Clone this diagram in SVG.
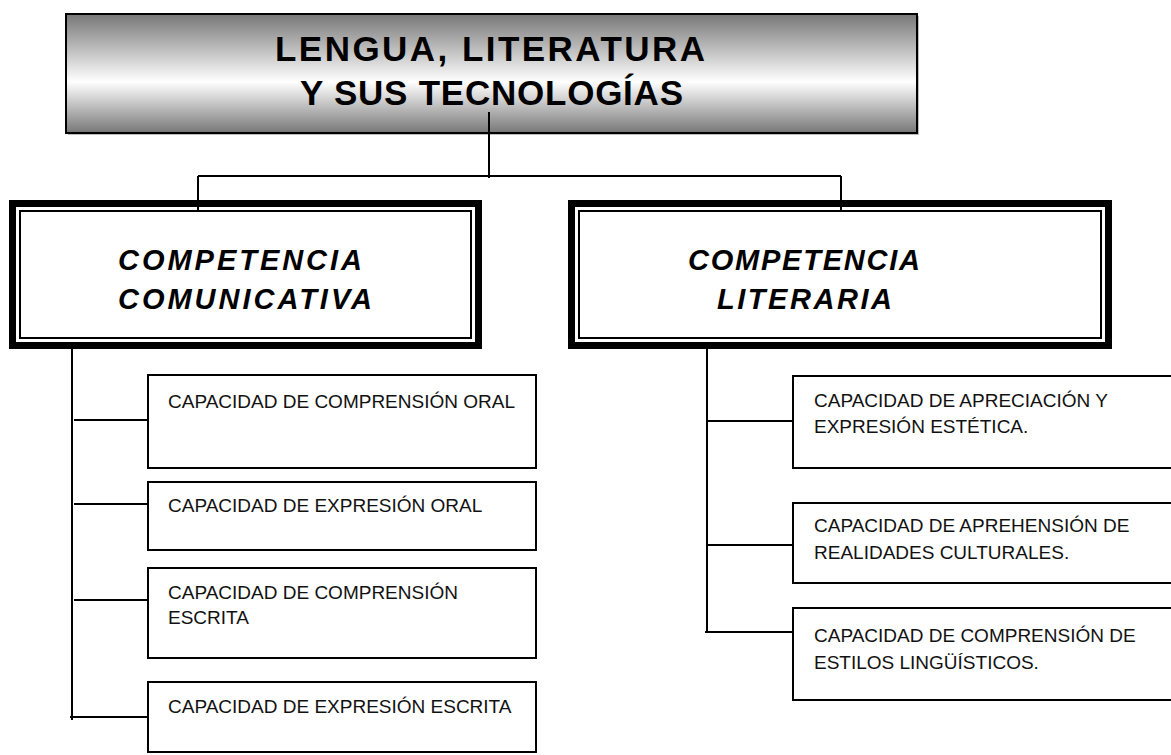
<svg xmlns="http://www.w3.org/2000/svg" width="1171" height="755" viewBox="0 0 1171 755">
<defs>
<linearGradient id="cyl" x1="0" y1="0" x2="0" y2="1">
<stop offset="0" stop-color="#777"/>
<stop offset="0.57" stop-color="#ffffff"/>
<stop offset="1" stop-color="#777"/>
</linearGradient>
<style>
.title{font-family:"Liberation Sans",Arial,sans-serif;font-weight:bold;font-size:35px;fill:#000}
.comp{font-family:"Liberation Sans",Arial,sans-serif;font-weight:bold;font-style:italic;font-size:29px;fill:#000}
.cap{font-family:"Liberation Sans",Arial,sans-serif;font-size:19px;fill:#111}
.box{fill:#fff;stroke:#000;stroke-width:2}
.thick{fill:#fff;stroke:#000;stroke-width:7}
.thin{fill:none;stroke:#000;stroke-width:2}
.conn{fill:none;stroke:#000;stroke-width:2}
</style>
</defs>
<rect width="1171" height="755" fill="#fff"/>

<g id="title">
<rect x="68" y="16" width="851" height="119" fill="#bbb"/>
<rect x="66" y="14" width="851" height="119" fill="url(#cyl)" stroke="#000" stroke-width="2"/>
<text class="title" x="275" y="61" textLength="430" lengthAdjust="spacing">LENGUA, LITERATURA</text>
<text class="title" x="300" y="105" textLength="383" lengthAdjust="spacing">Y SUS TECNOLOGÍAS</text>
</g>

<g id="comp-comunicativa">
<rect class="thick" x="12.5" y="203.5" width="466" height="142"/>
<rect class="thin" x="20" y="211" width="451" height="127"/>
<text class="comp" x="118" y="270" textLength="244" lengthAdjust="spacing">COMPETENCIA</text>
<text class="comp" x="118" y="309" textLength="254" lengthAdjust="spacing">COMUNICATIVA</text>
</g>

<g id="comp-literaria">
<rect class="thick" x="571.5" y="203.5" width="537" height="142"/>
<rect class="thin" x="579" y="211" width="522" height="127"/>
<text class="comp" x="688" y="270" textLength="232" lengthAdjust="spacing">COMPETENCIA</text>
<text class="comp" x="717" y="309" textLength="175" lengthAdjust="spacing">LITERARIA</text>
</g>

<g id="connectors">
<path class="conn" d="M489 112 V178"/>
<path class="conn" d="M198 176 H841"/>
<path class="conn" d="M198 176 V212"/>
<path class="conn" d="M841 176 V212"/>
<path class="conn" d="M72 349 V720"/>
<path class="conn" d="M74 420 H148"/>
<path class="conn" d="M74 504 H148"/>
<path class="conn" d="M74 600 H148"/>
<path class="conn" d="M70 717 H148"/>
<path class="conn" d="M707 349 V633"/>
<path class="conn" d="M707 421 H793"/>
<path class="conn" d="M707 545 H793"/>
<path class="conn" d="M705 632 H793"/>
</g>

<g id="cap-comp-oral">
<rect class="box" x="148" y="375" width="388" height="93"/>
<text class="cap" x="168" y="408">CAPACIDAD DE COMPRENSIÓN ORAL</text>
</g>
<g id="cap-exp-oral">
<rect class="box" x="148" y="482" width="388" height="68"/>
<text class="cap" x="168" y="512">CAPACIDAD DE EXPRESIÓN ORAL</text>
</g>
<g id="cap-comp-escrita">
<rect class="box" x="148" y="568" width="388" height="90"/>
<text class="cap" x="168" y="599">CAPACIDAD DE COMPRENSIÓN</text>
<text class="cap" x="168" y="624">ESCRITA</text>
</g>
<g id="cap-exp-escrita">
<rect class="box" x="148" y="682" width="388" height="70"/>
<text class="cap" x="168" y="713">CAPACIDAD DE EXPRESIÓN ESCRITA</text>
</g>

<g id="cap-apreciacion">
<rect class="box" x="793" y="376" width="400" height="92"/>
<text class="cap" x="814" y="407">CAPACIDAD DE APRECIACIÓN Y</text>
<text class="cap" x="814" y="433">EXPRESIÓN ESTÉTICA.</text>
</g>
<g id="cap-aprehension">
<rect class="box" x="793" y="503" width="400" height="80"/>
<text class="cap" x="814" y="532">CAPACIDAD DE APREHENSIÓN DE</text>
<text class="cap" x="814" y="559">REALIDADES CULTURALES.</text>
</g>
<g id="cap-estilos">
<rect class="box" x="793" y="608" width="400" height="92"/>
<text class="cap" x="814" y="642">CAPACIDAD DE COMPRENSIÓN DE</text>
<text class="cap" x="814" y="669">ESTILOS LINGÜÍSTICOS.</text>
</g>
</svg>
